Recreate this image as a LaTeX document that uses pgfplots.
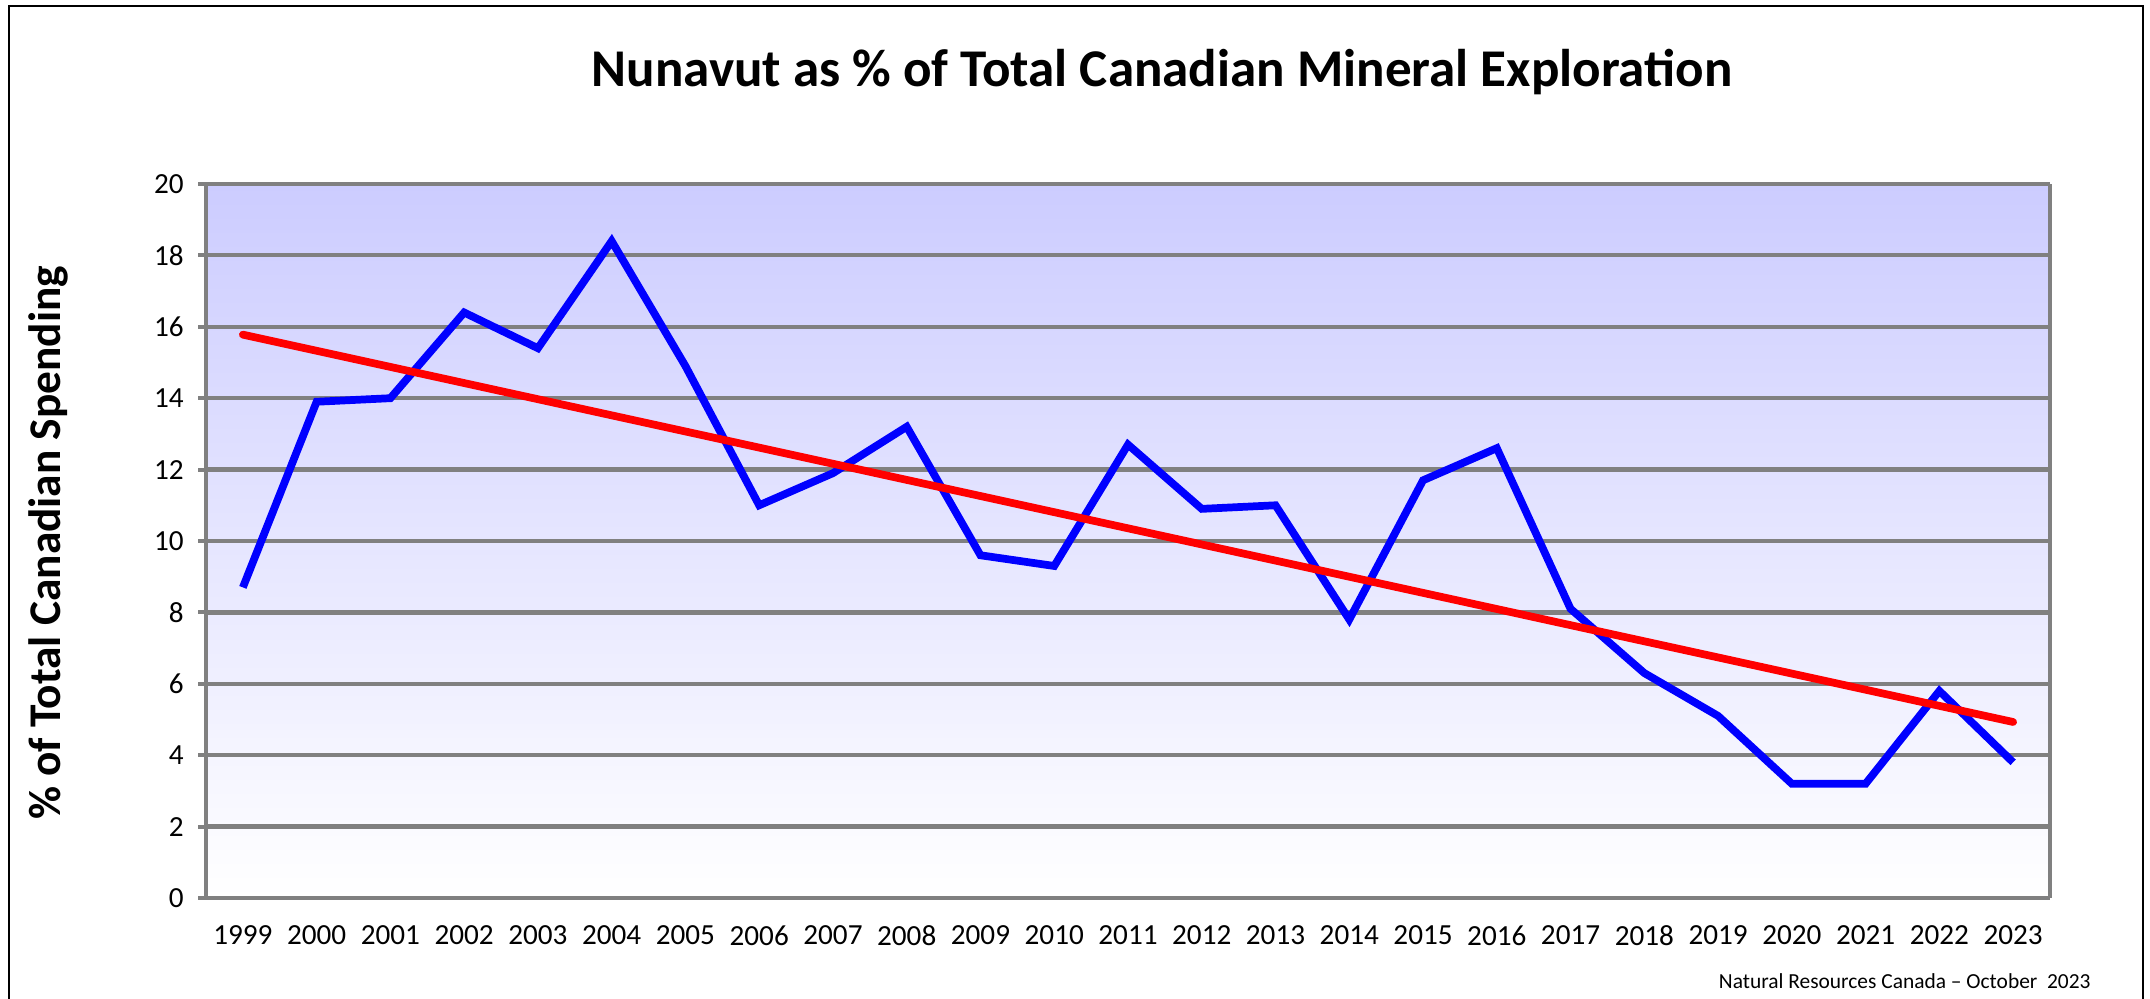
\documentclass[border=0pt]{standalone}
\usepackage{pgfplots}
\pgfplotsset{compat=1.18}
\usepackage{fontspec}
\setmainfont{Carlito}
\definecolor{bgtop}{RGB}{204,204,255}
\definecolor{axgray}{RGB}{128,128,128}
\definecolor{lblue}{RGB}{0,0,255}
\definecolor{lred}{RGB}{255,0,0}
\begin{document}
\begin{tikzpicture}
\useasboundingbox (0,0) rectangle (21.5,9.99);
\draw[black,line width=0.7pt] (0.09,-0.2) -- (0.09,9.93) -- (21.43,9.93) -- (21.43,-0.2);
\begin{axis}[
  at={(2.06cm,1.01cm)}, anchor=south west,
  scale only axis, width=18.44cm, height=7.14cm,
  xmin=-0.5, xmax=24.5, ymin=0, ymax=20,
  xtick={0,...,24},
  xticklabels={1999,2000,2001,2002,2003,2004,2005,2006,2007,2008,2009,2010,2011,2012,2013,2014,2015,2016,2017,2018,2019,2020,2021,2022,2023},
  minor xtick={-0.5,0.5,...,24.5},
  ytick={0,2,...,20},
  ymajorgrids,
  grid style={axgray, line width=1.2pt},
  axis line style={axgray, line width=1.3pt},
  x axis line style={draw=none},
  axis x line*=bottom,
  axis y line*=left,
  xtick style={draw=none},
  minor x tick style={axgray, line width=0.6pt},
  ytick style={axgray, line width=1.1pt},
  tick align=outside,
  major tick length=0.08cm,
  minor tick length=0.08cm,
  tick label style={font=\fontsize{8.3}{10}\selectfont},
  /pgf/number format/assume math mode=true,
  xticklabel style={yshift=-0.07cm},
  yticklabel style={xshift=-0.02cm},
  axis background/.style={shade, top color=bgtop, bottom color=white},
  clip=false,
]
\draw[axgray, line width=1.3pt] (axis cs:24.5,0) -- (axis cs:24.5,20);
\draw[axgray, line width=1.3pt] (axis cs:-0.5,0) -- (axis cs:24.5,0);
\addplot[lblue, line width=2.2pt, line join=miter, mark=none] coordinates {
(0,8.7) (1,13.9) (2,14.0) (3,16.4) (4,15.4) (5,18.4) (6,14.9) (7,11.0) (8,11.9) (9,13.2)
(10,9.6) (11,9.3) (12,12.7) (13,10.9) (14,11.0) (15,7.8) (16,11.7) (17,12.6) (18,8.1) (19,6.3)
(20,5.1) (21,3.2) (22,3.2) (23,5.8) (24,3.8)};
\addplot[lred, line width=2.2pt, line cap=round, mark=none] coordinates {(0,15.78) (24,4.93)};
\end{axis}
\node[font=\fontsize{15.1}{18}\selectfont\bfseries] at (11.62,9.27) {Nunavut as \% of Total Canadian Mineral Exploration};
\node[font=\fontsize{12.9}{15}\selectfont\bfseries, rotate=90] at (0.48,4.56) {\% of Total Canadian Spending};
\node[font=\fontsize{6.1}{7}\selectfont, anchor=east] at (21.03,0.18) {Natural Resources Canada -- October~~2023};
\end{tikzpicture}
\end{document}
